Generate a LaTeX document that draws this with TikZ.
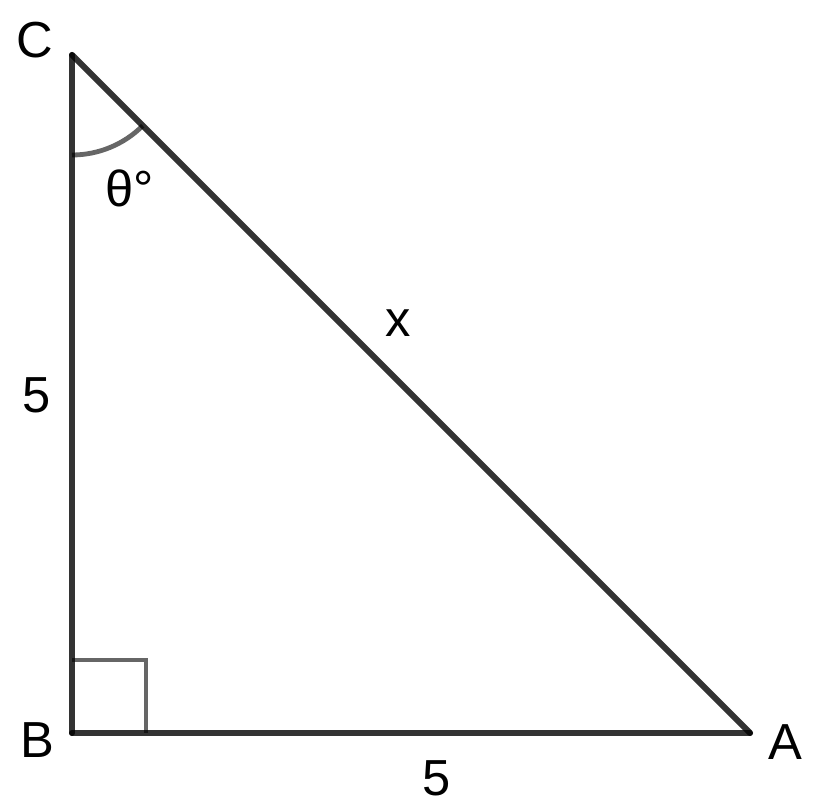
\documentclass[tikz,border=0pt]{standalone}
\usepackage{fontspec}
\setmainfont{Liberation Sans}
\tikzset{
  side/.style={line width=4.5pt, draw=black, draw opacity=0.8, line cap=round},
  anglemark/.style={line width=3.6pt, draw=black, draw opacity=0.6},
  lbl/.style={font=\fontsize{38}{44}\selectfont, inner sep=0pt}
}
\begin{document}
\begin{tikzpicture}[x=0.75pt,y=0.75pt]
  \useasboundingbox (0,0) rectangle (820,810);
  % vertices
  \coordinate (C) at (72,755);
  \coordinate (B) at (72,77);
  \coordinate (A) at (750,77);
  % sides
  \draw[side] (C) -- (B);
  \draw[side] (B) -- (A);
  \draw[side] (A) -- (C);
  % right angle and angle at C
  \draw[anglemark] (72,150) -- (146,150) -- (146,77);
  \draw[anglemark] (72,655) arc[start angle=270, end angle=315, radius=100];
  % labels
  \node[lbl] (labC) at (35,770) {C};
  \node[lbl] (labB) at (37,70) {B};
  \node[lbl] (labA) at (785,68) {A};
  \node[lbl] (sideBC) at (37,415) {5};
  \node[lbl] (sideBA) at (437,32) {5};
  \node[lbl] (sideCA) at (398,487) {x};
  \node[lbl] (theta) at (130,622) {θ°};
\end{tikzpicture}
\end{document}
